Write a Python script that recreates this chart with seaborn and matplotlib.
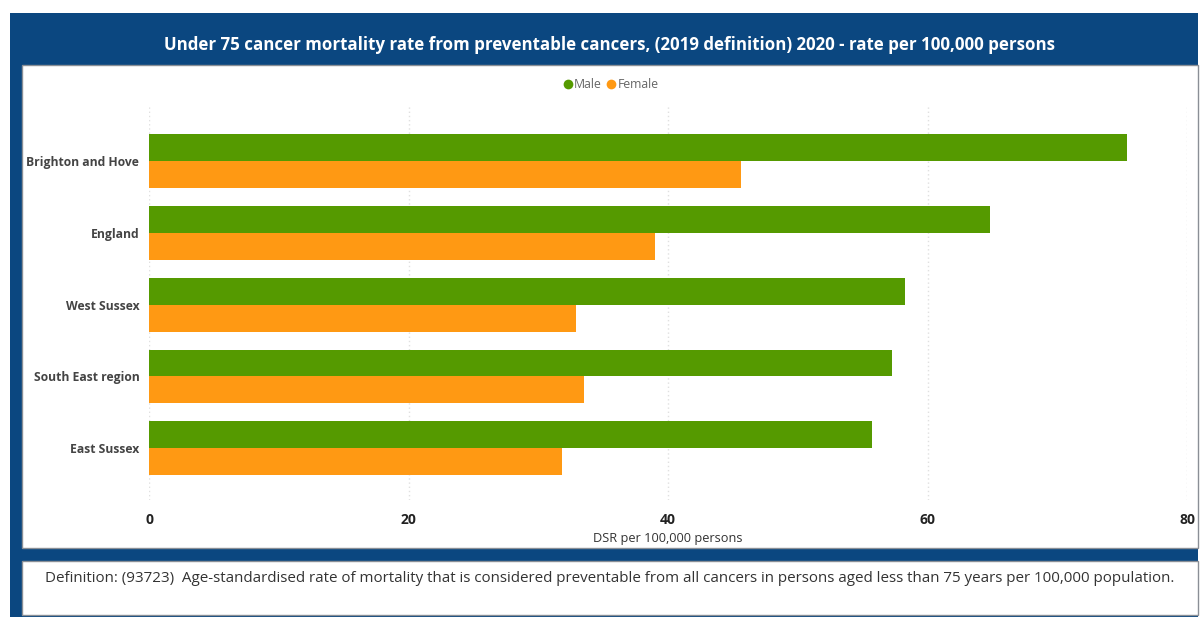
import matplotlib
matplotlib.use("Agg")
import matplotlib.pyplot as plt
import seaborn as sns
import pandas as pd
from matplotlib.patches import Rectangle
from matplotlib.lines import Line2D

# data
areas = ["Brighton and Hove", "England", "West Sussex", "South East region", "East Sussex"]
male = [75.4, 64.8, 58.3, 57.3, 55.7]
female = [45.6, 39.0, 32.9, 33.5, 31.8]
sexes = ["Male", "Female"]
xticks = [0, 20, 40, 60, 80]

title = "Under 75 cancer mortality rate from preventable cancers, (2019 definition) 2020 - rate per 100,000 persons"
definition = ("Definition: (93723)  Age-standardised rate of mortality that is considered preventable "
              "from all cancers in persons aged less than 75 years per 100,000 population.")

df = pd.DataFrame({
    "area": areas * 2,
    "sex": ["Male"] * len(areas) + ["Female"] * len(areas),
    "value": male + female,
})

navy = "#0B4780"
green = "#559A00"
orange = "#FF9913"
palette = {"Male": green, "Female": orange}

sns.set_style("white")
plt.rcParams["font.family"] = ["Open Sans", "DejaVu Sans"]

W, H = 1200, 617
fig = plt.figure(figsize=(W / 100, H / 100), dpi=100)


def px(x0, y0, x1, y1):
    # pixel box -> figure fraction rect
    return [x0 / W, 1 - y1 / H, (x1 - x0) / W, (y1 - y0) / H]


# blue frame and white panels
r = px(10, 13, 1198, 617)
fig.patches.append(Rectangle((r[0], r[1]), r[2], r[3], transform=fig.transFigure,
                             facecolor=navy, edgecolor="none", zorder=-3))
r = px(22, 65, 1198, 548)
fig.patches.append(Rectangle((r[0], r[1]), r[2], r[3], transform=fig.transFigure,
                             facecolor="white", edgecolor="#8a8f96", lw=1.0, zorder=-2))
r = px(22, 561, 1198, 615)
fig.patches.append(Rectangle((r[0], r[1]), r[2], r[3], transform=fig.transFigure,
                             facecolor="white", edgecolor="#8a8f96", lw=1.0, zorder=-2))

fig.text(610 / W, 1 - 45 / H, title, color="white", fontsize=12.2, fontweight="bold",
         ha="center", va="center")
fig.text(45 / W, 1 - 578 / H, definition, color="#333333", fontsize=10.9,
         ha="left", va="center")

ax = fig.add_axes(px(149, 105, 1187, 500))
ax.set_zorder(2)
ax.set_facecolor("none")
sns.barplot(data=df, x="value", y="area", hue="sex", hue_order=sexes, order=areas,
            palette=palette, orient="h", width=0.75, gap=0, saturation=1,
            edgecolor="none", ax=ax, legend=False)

ax.set_xlim(0, 80)
ax.set_ylim(4.72, -0.78)
ax.set_xticks(xticks)
ax.set_xticklabels([str(t) for t in xticks], fontweight="bold", color="#222222", fontsize=10)
for lab in ax.get_yticklabels():
    lab.set_fontweight("bold")
    lab.set_color("#444444")
    lab.set_fontsize(8.7)
ax.tick_params(axis="x", length=0, pad=9)
ax.tick_params(axis="y", length=0, pad=7)
ax.set_ylabel("")
ax.set_xlabel("DSR per 100,000 persons", fontsize=9.2, color="#333333", labelpad=4)
ax.grid(axis="x", color="#e0e0e0", linestyle=(0, (1, 2)), linewidth=1)
ax.grid(axis="y", visible=False)
ax.set_axisbelow(True)
for s in ax.spines.values():
    s.set_visible(False)

handles = [Line2D([], [], marker="o", linestyle="none", markersize=7,
                  markerfacecolor=palette[s], markeredgecolor="none") for s in sexes]
fig.legend(handles, sexes, loc="center", bbox_to_anchor=(610 / W, 1 - 85 / H), ncol=2,
           frameon=False, fontsize=8.8, labelcolor="#666666", handletextpad=0.0,
           columnspacing=0.3, handlelength=1.0)

fig.savefig("out.png", dpi=100)
